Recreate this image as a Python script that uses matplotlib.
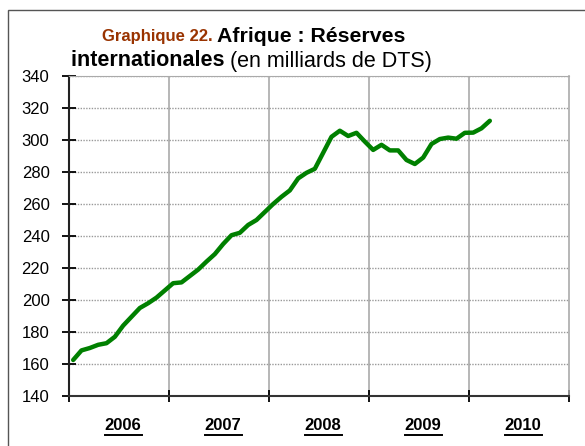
import matplotlib.pyplot as plt
from matplotlib.patches import Rectangle
from matplotlib.lines import Line2D
import numpy as np

# Réserves internationales de l'Afrique, mensuel, janv. 2006 - mars 2010
reserves = [162.5, 168.5, 170, 172, 173, 177, 184, 189.5, 195, 198, 201.5, 206,
            210.5, 211, 215, 219, 224, 228.7, 235, 240.5, 242, 246.9, 250, 255,
            260, 264.5, 268.5, 276, 279.5, 282, 292, 302, 305.8, 302.5, 304.5, 299,
            293.8, 297, 293.5, 293.5, 287.5, 285, 289, 297.5, 300.6, 301.5, 300.8, 304.5,
            304.6, 307.3, 312]
years = ['2006', '2007', '2008', '2009', '2010']
y_ticks = list(range(140, 341, 20))

W, H = 585, 446
fig = plt.figure(figsize=(W / 100, H / 100), dpi=100)
plt.rcParams['font.family'] = ['Liberation Sans', 'DejaVu Sans']

# cadre extérieur
fig.patches.append(Rectangle((8 / W, -0.1), 1.2, 1 - 9.5 / H + 0.1, transform=fig.transFigure,
                             fill=False, edgecolor='#555555', linewidth=1))

ax = fig.add_axes([69 / W, 1 - 396 / H, 500 / W, 320 / H])
x = np.arange(len(reserves)) + 0.5
ax.plot(x, reserves, color='#008000', linewidth=3.2, solid_joinstyle='round', solid_capstyle='round')

ax.set_xlim(0, 12 * len(years))
ax.set_ylim(140, 340)
ax.set_yticks(y_ticks)
ax.set_yticklabels([str(v) for v in y_ticks], fontsize=12)
ax.set_xticks(np.arange(0, 12 * len(years) + 1, 12))
ax.set_xticklabels([])

ax.yaxis.grid(True, color='#999999', linestyle=(0, (1, 1)), linewidth=1)
for xv in range(12, 12 * len(years), 12):
    ax.axvline(xv, color='#aaaaaa', linewidth=1.2, zorder=0)

ax.tick_params(axis='y', direction='inout', length=10, width=1.3, pad=9)
ax.tick_params(axis='x', direction='inout', length=9, width=1.3)
ax.spines['left'].set_linewidth(1.5)
ax.spines['bottom'].set_linewidth(1.5)
ax.spines['left'].set_color('#222222')
ax.spines['bottom'].set_color('#333333')
ax.spines['top'].set_color('#aaaaaa')
ax.spines['right'].set_color('#aaaaaa')
ax.spines['right'].set_linewidth(1.2)

fig.canvas.draw()
r = fig.canvas.get_renderer()
inv = fig.transFigure.inverted()

# étiquettes des années, en gras et soulignées
for i, yr in enumerate(years):
    t = ax.text(12 * i + 6.5, 1 - (426 - 76) / 320, yr, transform=ax.get_xaxis_transform(),
                ha='center', va='center', fontsize=12, fontweight='bold')
    bb = t.get_window_extent(r)
    (x0, _), (x1, _) = inv.transform([(bb.x0, 0), (bb.x1, 0)])
    yl = 1 - 434.5 / H
    fig.add_artist(Line2D([x0, x1], [yl, yl], transform=fig.transFigure, color='black', linewidth=1.4))

# titre composé de plusieurs morceaux
def chain(parts, x_px, y_px):
    xf = x_px / W
    for txt, kw in parts:
        t = fig.text(xf, 1 - y_px / H, txt, va='center', ha='left', **kw)
        bb = t.get_window_extent(r)
        xf = inv.transform((bb.x1, 0))[0]

chain([('Graphique 22. ', dict(fontsize=12, fontweight='bold', color='#993300')),
       ('Afrique : Réserves', dict(fontsize=15.3, fontweight='bold', color='black'))], 102, 36)
chain([('internationales ', dict(fontsize=15.5, fontweight='bold', color='black')),
       ('(en milliards de DTS)', dict(fontsize=15.5, color='black'))], 71, 61)

fig.savefig('out.png', dpi=100)
